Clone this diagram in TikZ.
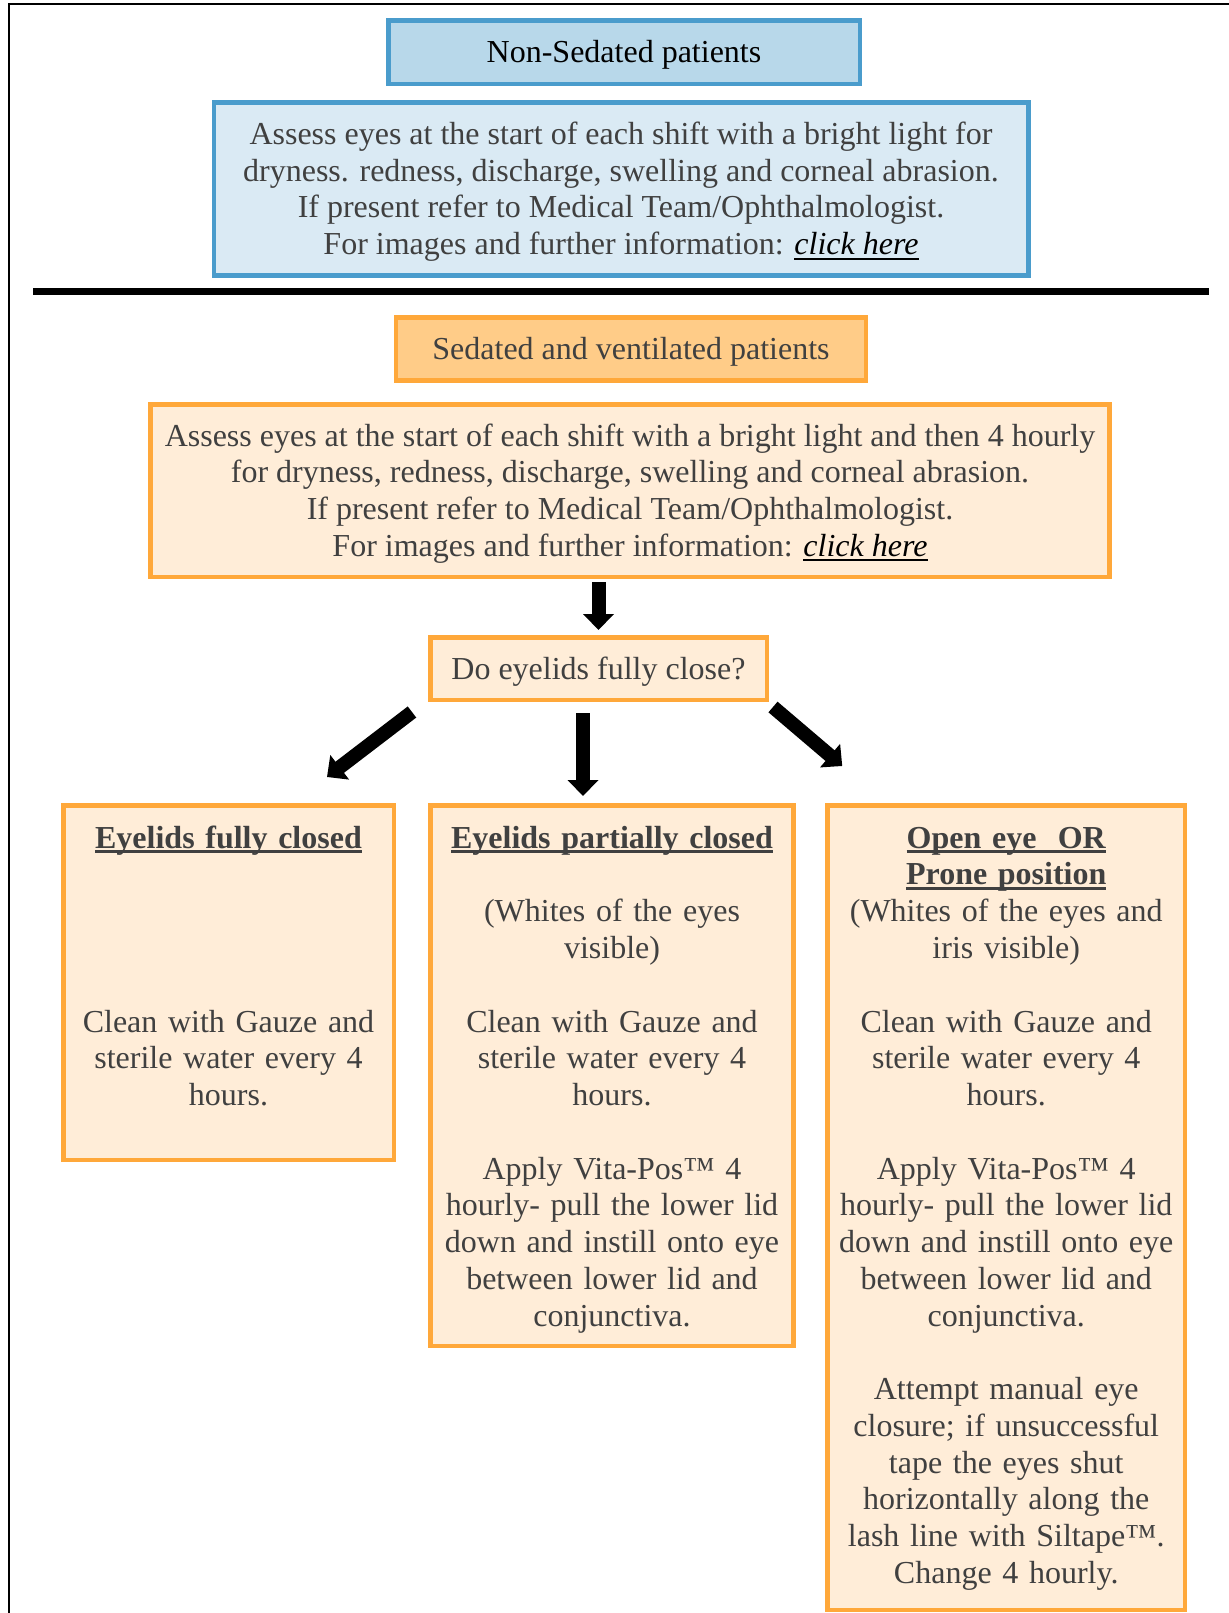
\documentclass[tikz,border=0pt]{standalone}
\usepackage{fontspec}
\setmainfont{Liberation Serif}
\usetikzlibrary{positioning,calc,arrows.meta}
\definecolor{bluedge}{RGB}{74,156,204}
\definecolor{bluehead}{RGB}{184,216,234}
\definecolor{bluefill}{RGB}{218,234,244}
\definecolor{orangeedge}{RGB}{255,168,58}
\definecolor{orangehead}{RGB}{255,204,136}
\definecolor{orangefill}{RGB}{255,237,216}
\definecolor{textgray}{RGB}{64,64,64}
\newcommand{\headul}[1]{\leavevmode\setbox0\hbox{\bfseries #1}\rlap{\rule[-2.6pt]{\wd0}{1.8pt}}\box0}
\newcommand{\linkul}[1]{\leavevmode{\color{black}\setbox0\hbox{\itshape #1}\rlap{\rule[-2.5pt]{\wd0}{1pt}}\box0}}
\newcommand{\topfix}{\rule{0pt}{14pt}}

\begin{document}
\begin{tikzpicture}[x=0.5pt, y=-0.5pt,
  bluebox/.style={draw=bluedge, line width=2.25pt, inner sep=0pt, fill=#1},
  orangebox/.style={draw=orangeedge, line width=2.25pt, inner sep=0pt, fill=#1},
  bodytext/.style={font=\fontsize{16pt}{18.38pt}\selectfont, text=textgray, align=center},
  columntext/.style={bodytext, inner sep=0pt, text width=#1},
  blockarrow/.style={line width=7pt, -{Triangle[width=15pt, length=8pt]}}]
\useasboundingbox (0,0) rectangle (1229,1613);

% Frame and divider
\draw[line width=1.25pt] (9,1613) -- (9,4) -- (1229,4);
\draw[line width=3.5pt] (33,291) -- (1209,291);

% Non-sedated patients
\node[bluebox=bluehead, bodytext, text=black, minimum width=235.75pt, minimum height=31.75pt] (nonsed) at (624,52) {\topfix Non-Sedated patients};
\node[bluebox=bluefill, bodytext, minimum width=407.25pt, minimum height=86.6pt] (nonsedinfo) at (621,189) {\topfix Assess eyes at the start of each shift with a bright light for\\ dryness. redness, discharge, swelling and corneal abrasion.\\ If present refer to Medical Team/Ophthalmologist.\\ For images and further information: \linkul{click here}};

% Sedated and ventilated patients
\node[orangebox=orangehead, bodytext, minimum width=235.2pt, minimum height=31.6pt] (sedhead) at (631,349) {\topfix Sedated and ventilated patients};
\node[orangebox=orangefill, bodytext, minimum width=479.6pt, minimum height=86.25pt] (sedinfo) at (630,490.6) {\topfix Assess eyes at the start of each shift with a bright light and then 4 hourly\\ for dryness, redness, discharge, swelling and corneal abrasion.\\ If present refer to Medical Team/Ophthalmologist.\\ For images and further information: \linkul{click here}};
\node[orangebox=orangefill, bodytext, minimum width=168.25pt, minimum height=31.25pt] (question) at (598.5,668.5) {\topfix Do eyelids fully close?};

% Outcome boxes
\node[orangebox=orangefill, minimum width=165.25pt, minimum height=177.25pt] (closed) at (228.5,982.5) {};
\node[orangebox=orangefill, minimum width=181.35pt, minimum height=270.25pt] (partial) at (612,1075.5) {};
\node[orangebox=orangefill, minimum width=178.75pt, minimum height=402.25pt] (openeye) at (1006.25,1207.5) {};

\node[columntext=160pt, below=10.4pt of closed.north] (closedtext) {\rule{0pt}{12pt}\headul{Eyelids fully closed}\\ \mbox{}\\ \mbox{}\\ \mbox{}\\ \mbox{}\\ Clean with Gauze and\\ sterile water every 4\\ hours.};
\node[columntext=178pt, below=10.4pt of partial.north] (partialtext) {\rule{0pt}{12pt}\headul{Eyelids partially closed}\\ \mbox{}\\ (Whites of the eyes\\ visible)\\ \mbox{}\\ Clean with Gauze and\\ sterile water every 4\\ hours.\\ \mbox{}\\ Apply Vita-Pos™ 4\\ hourly- pull the lower lid\\ down and instill onto eye\\ between lower lid and\\ conjunctiva.};
\node[columntext=176pt, below=10.4pt of openeye.north] (openeyetext) {\rule{0pt}{12pt}\headul{Open eye\ \ OR}\\ \headul{Prone position}\\ (Whites of the eyes and\\ iris visible)\\ \mbox{}\\ Clean with Gauze and\\ sterile water every 4\\ hours.\\ \mbox{}\\ Apply Vita-Pos™ 4\\ hourly- pull the lower lid\\ down and instill onto eye\\ between lower lid and\\ conjunctiva.\\ \mbox{}\\ Attempt manual eye\\ closure; if unsuccessful\\ tape the eyes shut\\ horizontally along the\\ lash line with Siltape™.\\ Change 4 hourly.};

% Arrows
\draw[blockarrow] ($(sedinfo.south -| question.north)+(0,3)$) -- ($(question.north)+(0,-5)$);
\draw[blockarrow] ($(question.south west)+(-16,10)$) -- ($(closed.north)+(98.5,-26)$);
\draw[blockarrow] ($(question.south)+(-15.5,11)$) -- ($(partial.north)+(-29,-7)$);
\draw[blockarrow] ($(question.south east)+(4,5)$) -- ($(openeye.north west)+(17,-37)$);

\end{tikzpicture}
\end{document}
